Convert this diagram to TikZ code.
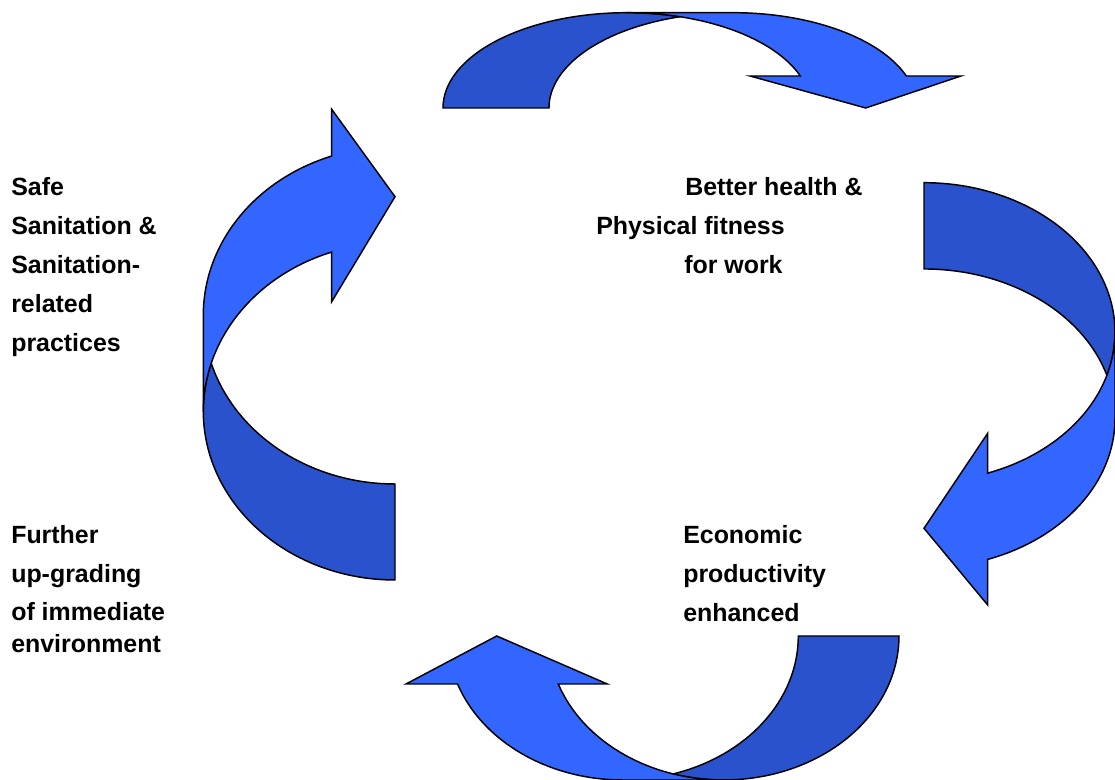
\documentclass[tikz,border=0pt]{standalone}
\usepackage{fontspec}
\setmainfont{Liberation Sans}
\usepackage[svgnames]{xcolor}
\usepackage{tikz}

\definecolor{BandLight}{HTML}{3366FF}
\definecolor{BandDark}{HTML}{2952CC}

% twisted curved arrow, local frame: base on u axis, bulge towards +v
% #1 x radius, #2 y radius, #3 band width, #4 head base, #5 inner wing, #6 outer wing, #7 tip
\newcommand{\twistarrow}[7]{%
\pgfmathsetmacro{\ca}{acos(#3/(2*#1))}
\pgfmathsetmacro{\pa}{asin(#4/#2)}
\pgfmathsetmacro{\ua}{#1*cos(\pa)}
\filldraw[backband] (-#1,0) arc[start angle=180,end angle=\ca,x radius=#1,y radius=#2]
  arc[start angle=180-\ca,end angle=180,x radius=#1,y radius=#2] -- cycle;
\filldraw[frontband] (0,#2) -- (#3,#2) arc[start angle=90,end angle=\pa,x radius=#1,y radius=#2]
  -- (#6,#4) -- (#7,0) -- (#5,#4) -- (\ua,#4)
  arc[start angle=\pa,end angle=90,x radius=#1,y radius=#2] -- cycle;
}

\begin{document}
\begin{tikzpicture}[x=0.75pt,y=0.75pt,line join=miter,
  backband/.style={fill=BandDark,draw=black,line width=1.1pt},
  frontband/.style={fill=BandLight,draw=black,line width=1.1pt},
  lbl/.style={anchor=base west,inner sep=0pt,font=\bfseries\fontsize{18.7}{22}\selectfont}]
\useasboundingbox (0,0) rectangle (1115,780);

% top
\begin{scope}[shift={(627,672)}]
\twistarrow{184}{95.3}{106}{32}{123}{334}{238.7}
\end{scope}
% right
\begin{scope}[shift={(924,447.8)},rotate=-90]
\twistarrow{149.5}{191}{86.3}{63.7}{101.1}{272.8}{196.1}
\end{scope}
% bottom
\begin{scope}[shift={(723.6,144)},rotate=180]
\twistarrow{175.4}{144}{100.7}{48}{116.3}{317.6}{226.9}
\end{scope}
% left
\begin{scope}[shift={(395,368.7)},rotate=90]
\twistarrow{168.7}{191.7}{96}{63.3}{109.6}{302}{214.6}
\end{scope}

\node[lbl] (safe1) at (11,584) {Safe};
\node[lbl] (safe2) at (11,545) {Sanitation \&};
\node[lbl] (safe3) at (11,506) {Sanitation-};
\node[lbl] (safe4) at (11,467) {related};
\node[lbl] (safe5) at (11,428) {practices};

\node[lbl] (health1) at (685,584) {Better health \&};
\node[lbl] (health2) at (596,545) {Physical fitness};
\node[lbl] (health3) at (684,506) {for work};

\node[lbl] (econ1) at (683,236) {Economic};
\node[lbl] (econ2) at (683,197) {productivity};
\node[lbl] (econ3) at (683,158) {enhanced};

\node[lbl] (env1) at (11,236) {Further};
\node[lbl] (env2) at (11,197.5) {up-grading};
\node[lbl] (env3) at (11,159) {of immediate};
\node[lbl] (env4) at (11,127.5) {environment};
\end{tikzpicture}
\end{document}
